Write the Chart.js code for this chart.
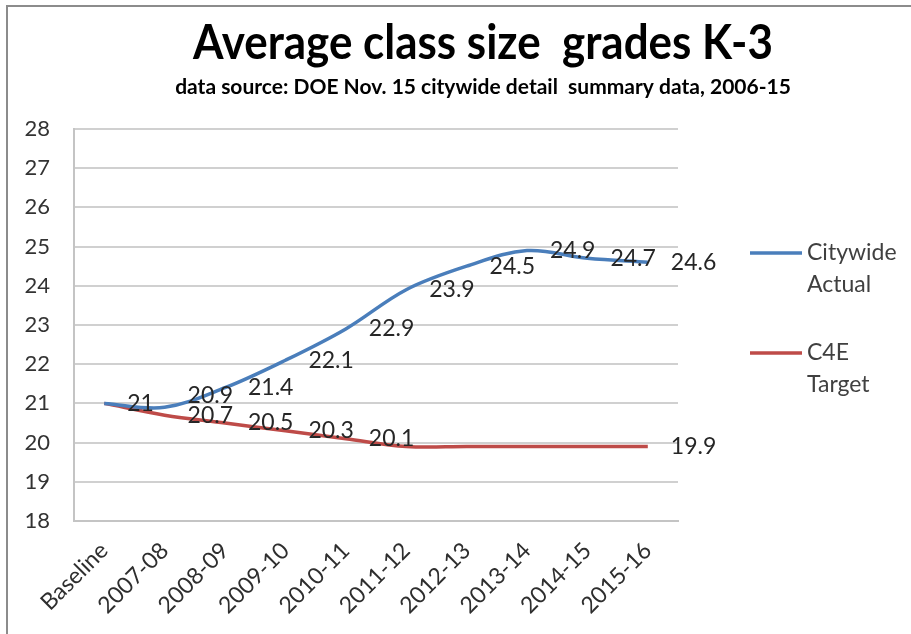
<!DOCTYPE html>
<html>
<head>
<meta charset="utf-8">
<title>Average class size grades K-3</title>
<script src="https://cdn.jsdelivr.net/npm/chart.js@4/dist/chart.umd.min.js"></script>
<style>
	html, body { margin: 0; padding: 0; background: #fff; }
	#wrap { position: relative; width: 911px; height: 634px; overflow: hidden; }
	#frame { position: absolute; left: 6px; top: 5px; right: -10px; bottom: -10px; border-top: 2px solid #8c8c8c; border-left: 2px solid #8c8c8c; }
	canvas { position: absolute; left: 0; top: 0; }
</style>
</head>
<body>
<div id="wrap"><div id="frame"></div><canvas id="classSize" width="911" height="634"></canvas></div>
<script>
// Data
const years = [ 'Baseline', '2007-08', '2008-09', '2009-10', '2010-11', '2011-12', '2012-13', '2013-14', '2014-15', '2015-16' ];
const citywideActual = [ 21, 20.9, 21.4, 22.1, 22.9, 23.9, 24.5, 24.9, 24.7, 24.6 ];
const c4eTarget = [ 21, 20.7, 20.5, 20.3, 20.1, 19.9, 19.9, 19.9, 19.9, 19.9 ];
const seriesNames = [ [ 'Citywide', 'Actual' ], [ 'C4E', 'Target' ] ];
const yMin = 18, yMax = 28, yStep = 1;

// Which points carry a value label (the others were hidden in the original)
const labelledActual = [ 0, 1, 2, 3, 4, 5, 6, 7, 8, 9 ];
const labelledTarget = [ 1, 2, 3, 4, 9 ];

const titleText = 'Average class size  grades K-3';
const subtitleText = 'data source: DOE Nov. 15 citywide detail  summary data, 2006-15';

const BLUE = '#4a7ebb',
	RED = '#be4b48',
	GRID = '#d0d0d0',
	FONT = 'Lato, "Open Sans", sans-serif';

// small manual nudge for the one label that was dragged up in the original
const labelNudge = { 0: { 1: -12 } };

const decorations = {
	id: 'decorations',
	afterDatasetsDraw( chart ) {
		const ctx = chart.ctx;
		ctx.save();
		ctx.font = '23px ' + FONT;
		ctx.fillStyle = '#262626';
		ctx.textAlign = 'left';
		ctx.textBaseline = 'middle';
		chart.data.datasets.forEach( function( ds, i ) {
			const meta = chart.getDatasetMeta( i );
			ds.labelled.forEach( function( idx ) {
				const pt = meta.data[ idx ];
				const nudge = ( labelNudge[ i ] && labelNudge[ i ][ idx ] ) || 0;
				ctx.fillText( String( ds.data[ idx ] ), pt.x + 23, pt.y + nudge );
			} );
		} );
		ctx.restore();
	},
	afterDraw( chart ) {
		const ctx = chart.ctx,
			area = chart.chartArea;
		ctx.save();

		// Title + subtitle
		const cx = area.left + ( area.right - area.left ) / 2 + 107;
		ctx.fillStyle = '#000';
		ctx.textAlign = 'center';
		ctx.textBaseline = 'middle';
		ctx.font = 'bold 47px ' + FONT;
		ctx.fillText( titleText, cx, 44, 580 );
		ctx.font = 'bold 21px ' + FONT;
		ctx.fillText( subtitleText, cx, 87, 653 );

		// Legend (two line labels)
		const lx = area.right + 72,
			mid = ( area.top + area.bottom ) / 2;
		const rows = [ mid - 72, mid + 28 ];
		ctx.font = '23px ' + FONT;
		ctx.textAlign = 'left';
		ctx.fillStyle = '#404040';
		chart.data.datasets.forEach( function( ds, i ) {
			const y = rows[ i ];
			ctx.strokeStyle = ds.borderColor;
			ctx.lineWidth = ds.borderWidth;
			ctx.beginPath();
			ctx.moveTo( lx, y );
			ctx.lineTo( lx + 52, y );
			ctx.stroke();
			seriesNames[ i ].forEach( function( line, n ) {
				ctx.fillText( line, lx + 57, y + n * 32 );
			} );
		} );
		ctx.restore();
	}
};

const ctx = document.getElementById( 'classSize' ).getContext( '2d' );
new Chart( ctx, {
	type: 'line',
	data: {
		labels: years,
		datasets: [
			{
				label: seriesNames[ 0 ].join( ' ' ),
				data: citywideActual,
				borderColor: BLUE,
				borderWidth: 3.5,
				tension: 0.35,
				pointRadius: 0,
				labelled: labelledActual
			},
			{
				label: seriesNames[ 1 ].join( ' ' ),
				data: c4eTarget,
				borderColor: RED,
				borderWidth: 3.5,
				tension: 0.35,
				pointRadius: 0,
				labelled: labelledTarget
			}
		]
	},
	options: {
		responsive: false,
		animation: false,
		devicePixelRatio: 1,
		layout: { padding: { top: 129, right: 233, left: 0, bottom: 0 } },
		plugins: {
			legend: { display: false },
			title: { display: false },
			tooltip: { enabled: false }
		},
		scales: {
			x: {
				offset: true,
				grid: { display: false },
				border: { display: true, color: '#c4c4c4', width: 2 },
				ticks: {
					minRotation: 45,
					maxRotation: 45,
					autoSkip: false,
					padding: 8,
					color: '#2e2e2e',
					font: { family: FONT, size: 23 }
				},
				afterFit( scale ) { scale.height = 113; }
			},
			y: {
				min: yMin,
				max: yMax,
				grid: { color: GRID, lineWidth: 2, drawTicks: false },
				border: { display: true, color: '#c4c4c4', width: 2 },
				ticks: {
					stepSize: yStep,
					padding: 24,
					color: '#333',
					font: { family: FONT, size: 22 }
				},
				afterFit( scale ) { scale.width = 74; }
			}
		}
	},
	plugins: [ decorations ]
} );
</script>
</body>
</html>
